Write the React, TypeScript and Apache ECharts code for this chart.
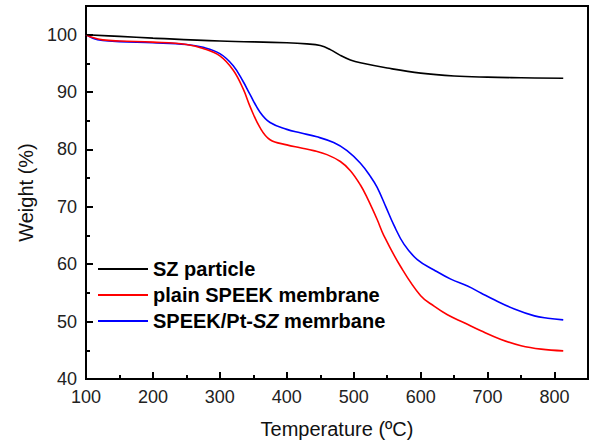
import React, { useEffect, useRef } from "react";
import * as echarts from "echarts";

const seriesNames = ["SZ particle", "plain SPEEK membrane", "SPEEK/Pt-SZ memrbane"];
const seriesColors = ["#000000", "#ff0000", "#0000ff"];

const szTemp = [100, 150, 200, 300, 400, 430, 450, 465, 480, 495, 510, 550, 600, 650, 700, 750, 813];
const szWeight = [100, 99.7, 99.4, 98.9, 98.6, 98.4, 98.1, 97.4, 96.4, 95.6, 95.1, 94.2, 93.3, 92.8, 92.6, 92.5, 92.4];

const plainTemp = [100, 110, 125, 150, 200, 250, 275, 300, 320, 335, 345, 360, 375, 400, 420, 440, 460, 480, 495, 510, 520, 535, 545, 570, 600, 620, 640, 665, 690, 720, 750, 780, 813];
const plainWeight = [100, 99.5, 99.1, 98.9, 98.7, 98.3, 97.6, 96.3, 93.8, 90.5, 87.5, 83.8, 81.7, 80.8, 80.3, 79.8, 79.1, 77.9, 76.3, 73.8, 71.6, 67.8, 65.0, 59.6, 54.5, 52.7, 51.2, 49.8, 48.4, 46.9, 45.8, 45.2, 44.9];

const ptTemp = [100, 110, 125, 150, 200, 250, 275, 300, 320, 335, 345, 360, 375, 400, 420, 445, 470, 490, 510, 525, 535, 548, 560, 575, 595, 620, 645, 670, 690, 710, 740, 770, 790, 813];
const ptWeight = [100, 99.4, 99.0, 98.8, 98.6, 98.3, 97.8, 96.7, 94.6, 91.8, 89.6, 86.5, 84.7, 83.5, 82.9, 82.2, 81.2, 79.8, 77.6, 75.3, 73.4, 70.0, 66.8, 63.5, 60.8, 59.0, 57.4, 56.2, 55.0, 53.8, 52.2, 51.0, 50.6, 50.3];

const xMin = 100, xMax = 850, xInterval = 100;
const yMin = 40, yMax = 105, yInterval = 10;

const zip = (a: number[], b: number[]) => a.map((v, i) => [v, b[i]]);

export default function App() {
  const ref = useRef<HTMLDivElement>(null);
  useEffect(() => {
    if (!ref.current) return;
    const chart = echarts.init(ref.current, null, { renderer: "svg" });
    const font = "'Liberation Sans', Arial, sans-serif";
    const datasets = [zip(szTemp, szWeight), zip(plainTemp, plainWeight), zip(ptTemp, ptWeight)];
    chart.setOption({
      animation: false,
      backgroundColor: "#ffffff",
      textStyle: { fontFamily: font },
      grid: {
        left: 86, right: 3, top: 6, bottom: 64,
        show: true, borderColor: "#000", borderWidth: 2, backgroundColor: "transparent",
      },
      legend: {
        orient: "vertical",
        left: 93,
        top: 252,
        itemWidth: 50,
        itemHeight: 2,
        itemGap: 2,
        icon: "rect",
        data: seriesNames,
        textStyle: {
          fontFamily: font, fontSize: 20, fontWeight: "bold", color: "#000", lineHeight: 24,
          rich: {
            b: { fontFamily: font, fontSize: 20, fontWeight: "bold", color: "#000" },
            i: { fontFamily: font, fontSize: 20, fontWeight: "bold", fontStyle: "italic", color: "#000" },
          },
        },
        formatter: (name: string) =>
          name === seriesNames[2] ? "{b|SPEEK/Pt-}{i|SZ}{b| memrbane}" : name,
      },
      xAxis: {
        type: "value",
        min: xMin, max: xMax, interval: xInterval,
        name: "Temperature (ºC)",
        nameLocation: "middle",
        nameGap: 40,
        nameTextStyle: { fontFamily: font, fontSize: 20, color: "#111" },
        axisLine: { show: true, lineStyle: { color: "#000", width: 2 } },
        axisTick: { show: true, inside: true, length: 7, lineStyle: { color: "#000", width: 2 } },
        minorTick: { show: true, splitNumber: 2, length: 4, lineStyle: { color: "#000", width: 2 } },
        axisLabel: { fontFamily: font, fontSize: 18, color: "#222", margin: 9, showMaxLabel: false },
        splitLine: { show: false },
      },
      yAxis: {
        type: "value",
        min: yMin, max: yMax, interval: yInterval,
        name: "Weight (%)",
        nameLocation: "middle",
        nameGap: 50,
        nameTextStyle: { fontFamily: font, fontSize: 20, color: "#111" },
        axisLine: { show: true, lineStyle: { color: "#000", width: 2 } },
        axisTick: { show: true, inside: true, length: 7, lineStyle: { color: "#000", width: 2 } },
        minorTick: { show: true, splitNumber: 2, length: 4, lineStyle: { color: "#000", width: 2 } },
        axisLabel: { fontFamily: font, fontSize: 18, color: "#222", margin: 9, showMaxLabel: false },
        splitLine: { show: false },
      },
      series: seriesNames.map((name, i) => ({
        name,
        type: "line",
        data: datasets[i],
        smooth: 0.4,
        showSymbol: false,
        symbol: "none",
        color: seriesColors[i],
        lineStyle: { color: seriesColors[i], width: 1.6 },
        z: 3 - i,
      })),
    });
    return () => chart.dispose();
  }, []);
  return <div ref={ref} style={{ width: 591, height: 444, position: "absolute", left: 0, top: 0 }} />;
}
